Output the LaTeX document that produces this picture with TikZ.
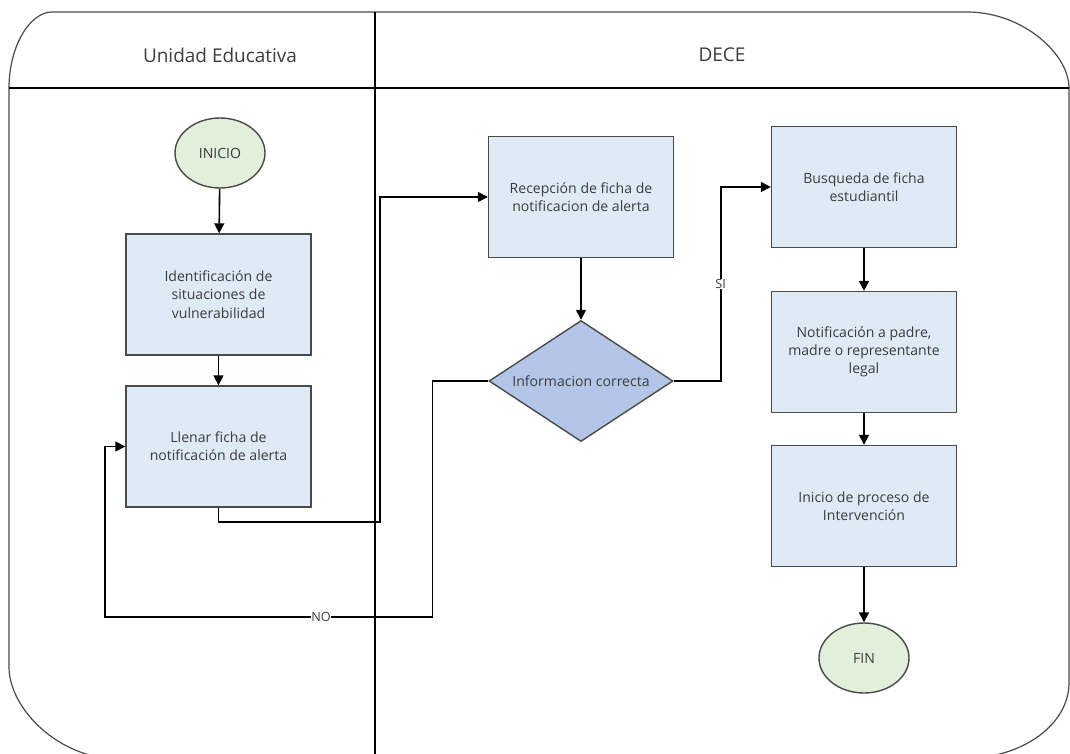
\documentclass[tikz,border=0pt]{standalone}
\usepackage{fontspec}
\setmainfont{Open Sans}
\usetikzlibrary{shapes.geometric,arrows.meta}
\definecolor{cajaazul}{HTML}{DEEAF6}
\definecolor{rombo}{HTML}{B4C6E7}
\definecolor{verdeclaro}{HTML}{E2EFDA}
\definecolor{borde}{HTML}{4A4A4A}
\definecolor{texto}{HTML}{3C3C3C}
\tikzset{
  caja/.style={draw=borde, fill=cajaazul, line width=.7mm, minimum width=92.5mm, minimum height=60.5mm, inner sep=0pt, align=center, text=texto, font=\fontsize{20}{26}\selectfont},
  terminal/.style={ellipse, draw=borde, fill=verdeclaro, line width=.7mm, minimum width=45mm, minimum height=35mm, inner sep=0pt, text=texto, font=\fontsize{20}{26}\selectfont},
  decision/.style={diamond, draw=borde, fill=rombo, line width=.7mm, minimum width=92mm, minimum height=60.5mm, inner sep=0pt, text=texto},
  flecha/.style={line width=.8mm, -{Triangle[length=5mm,width=5mm]}},
  etiqueta/.style={fill=white, inner sep=1pt, text=texto, font=\fontsize{18}{20}\selectfont}
}
\begin{document}
\begin{tikzpicture}[x=.5mm, y=-.5mm]
        \useasboundingbox (0,0) rectangle (1070,754);
        \begin{scope}
        \clip (0,0) rectangle (1070,754);
        \draw[line width=.6mm, borde] (9,88) .. controls (9,46) and (30,12) .. (52,12) -- (967,12)
          .. controls (1023,12) and (1069,54) .. (1069,88) -- (1069,683)
          .. controls (1069,724) and (1023,758) .. (967,758) -- (119,759)
          .. controls (58,759) and (9,708) .. (9,667) -- cycle;
        \end{scope}
        \draw[line width=.7mm, black] (9,88) -- (1069,88);
        \draw[line width=.6mm, black] (375,12) -- (375,754);
        \node[text=texto, font=\fontsize{27}{30}\selectfont] (carril1) at (220,55) {Unidad Educativa};
        \node[text=texto, font=\fontsize{27}{30}\selectfont] (carril2) at (722,55) {DECE};

        \node[terminal] (ini) at (220,153) {INICIO};
        \node[caja] (id) at (218.5,294.5) {Identificación de\\situaciones de\\vulnerabilidad};
        \node[caja] (llenar) at (218.5,446.5) {Llenar ficha de\\notificación de alerta};
        \node[caja] (rec) at (581,197) {Recepción de ficha de\\notificacion de alerta};
        \node[decision, label={[text=texto, font=\fontsize{20}{26}\selectfont]center:Informacion correcta}] (dec) at (581,381) {};
        \node[caja] (busq) at (864,187) {Busqueda de ficha\\estudiantil};
        \node[caja] (notif) at (864,352) {Notificación a padre,\\madre o representante\\legal};
        \node[caja] (inter) at (864,506) {Inicio de proceso de\\Intervención};
        \node[terminal] (fin) at (864,658) {FIN};

        \coordinate (codo) at (380,197);
        \coordinate (vuelta) at (105,617);

        \draw[flecha] (ini) -- (id);
        \draw[flecha] (id) -- (llenar);
        \draw[flecha] (llenar.south) -- ++(0,14) -| (codo) -- (rec.west);
        \draw[flecha] (rec) -- (dec);
        \draw[flecha] (dec.east) -- ++(47,0) |- node[etiqueta, pos=.25] {SI} (busq.west);
        \draw[flecha] (dec.west) -- ++(-56,0) |- node[etiqueta, pos=.67] {NO} (vuelta) |- (llenar.west);
        \draw[flecha] (busq) -- (notif);
        \draw[flecha] (notif) -- (inter);
        \draw[flecha] (inter) -- (fin);
\end{tikzpicture}
\end{document}
